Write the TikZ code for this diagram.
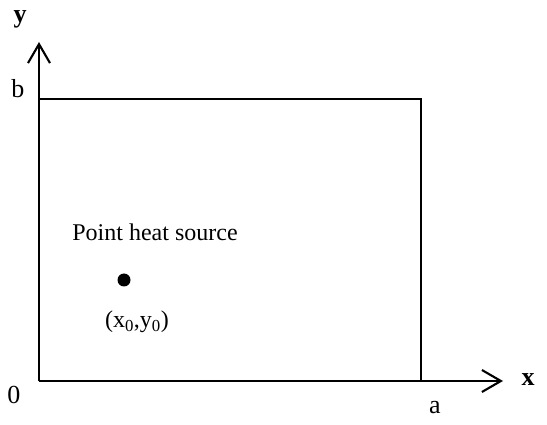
\documentclass[tikz,border=0pt]{standalone}
\usepackage{fontspec}
\setmainfont{Liberation Serif}
\usetikzlibrary{arrows.meta}
\begin{document}
\begin{tikzpicture}[x=1pt,y=-1pt,
  axis/.style={line width=2.1pt,-{Straight Barb[length=19pt,width=22pt,line width=2.1pt]}},
  edge/.style={line width=2.1pt},
  lbl/.style={font=\fontsize{24}{28}\selectfont, inner sep=0pt},
  biglbl/.style={font=\fontsize{26}{30}\selectfont, inner sep=0pt}]
\useasboundingbox (0,0) rectangle (547,425);
\coordinate (O) at (39,381);
\coordinate (Ytip) at (39,42);
\coordinate (Xtip) at (503,381);
\coordinate (B) at (39,99);
\coordinate (TR) at (421,99);
\coordinate (BR) at (421,381);
\draw[axis] (O) -- (Ytip);
\draw[axis] (O) -- (Xtip);
\draw[edge] (B) -- (TR) -- (BR);
\node[biglbl] (ylab) at (20,19) {\textbf{y}};
\node[biglbl] (xlab) at (528,380) {\textbf{x}};
\node[biglbl] (blab) at (18,89) {b};
\node[biglbl] (zlab) at (14,395) {0};
\node[biglbl] (alab) at (435,408) {a};
\node[lbl] (src) at (155,232) {Point heat source};
\node[circle, fill=black, inner sep=0pt, minimum size=13pt] (dot) at (124,280) {};
\node[lbl] (coord) at (137,322) {(x\textsubscript{0},y\textsubscript{0})};
\end{tikzpicture}
\end{document}
